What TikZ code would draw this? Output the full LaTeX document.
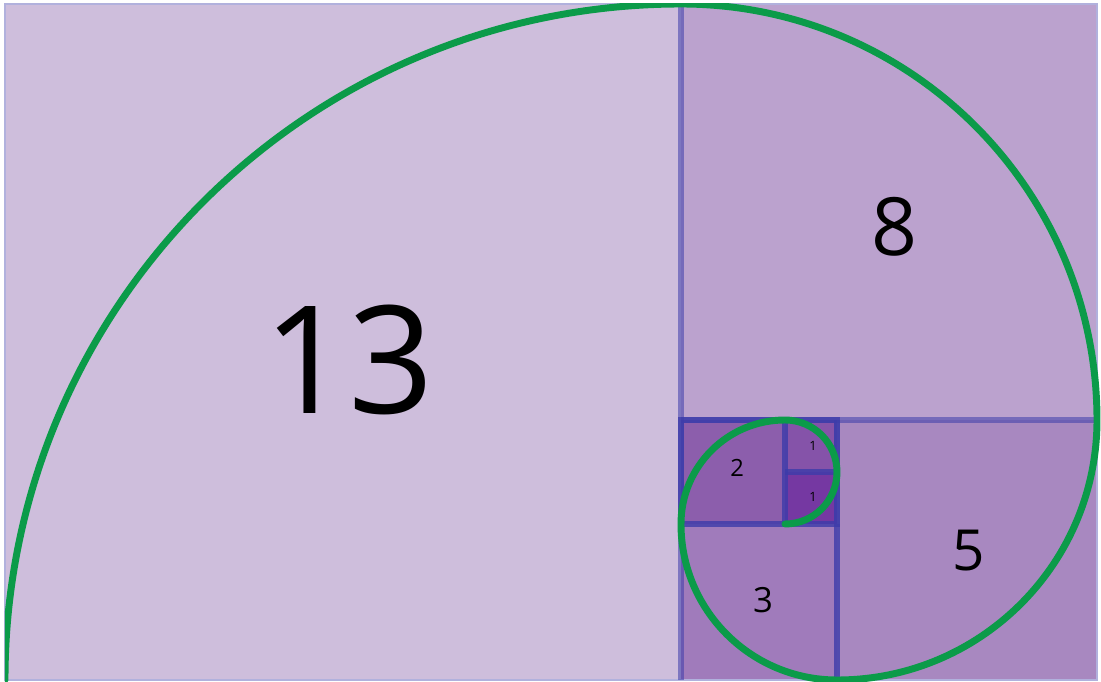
\documentclass[tikz,border=0pt]{standalone}
\usepackage{fontspec}
\setmainfont{Open Sans}
\definecolor{sqA}{HTML}{CEBEDC}
\definecolor{sqB}{HTML}{BBA2CE}
\definecolor{sqC}{HTML}{A888C0}
\definecolor{sqD}{HTML}{A07BBB}
\definecolor{sqE}{HTML}{8C5EAC}
\definecolor{sqF}{HTML}{8553A9}
\definecolor{sqG}{HTML}{7538A2}
\definecolor{seamblue}{HTML}{3C3CAA}
\definecolor{spiralgreen}{HTML}{0B9B49}
\tikzset{
  seam/.style={draw=seamblue, line width=3.3pt, opacity=.55},
  seamdark/.style={draw=seamblue, line width=3.5pt, opacity=.8},
  spiral/.style={draw=spiralgreen, line width=3.8pt, line cap=round}
}
\begin{document}
\begin{tikzpicture}[x=1cm, y=1cm]
  \useasboundingbox[fill=white] (-0.096,-0.038) rectangle (21.077,13.077);
  % squares of the tiling
  \foreach \x/\y/\s/\c in {0/0/13/sqA, 13/5/8/sqB, 16/0/5/sqC, 13/0/3/sqD,
                           13/3/2/sqE, 15/4/1/sqF, 15/3/1/sqG}
    \fill[\c] (\x,\y) rectangle ++(\s,\s);
  \draw[draw=seamblue!40, line width=1.4pt] (0,0) rectangle (21,13);
  % seams
  \draw[seam] (13,0) -- (13,13);
  \draw[seam] (13,5) -- (21,5);
  \draw[seam] (16,0) -- (16,5);
  \draw[seamdark] (13,3) rectangle (16,5);
  \draw[seamdark] (15,3) -- (15,5);
  \draw[seamdark] (15,4) -- (16,4);
  \draw[seam] (16,0) -- (16,3);
  % spiral
  \begin{scope}
    \clip (0,-1) rectangle (22,13);
    \draw[spiral] (0,0) arc[start angle=180, end angle=90, radius=13]
      arc[start angle=90, end angle=0, radius=8]
      arc[start angle=0, end angle=-90, radius=5]
      arc[start angle=-90, end angle=-180, radius=3]
      arc[start angle=180, end angle=90, radius=2]
      arc[start angle=90, end angle=-90, radius=1];
  \end{scope}
  % labels
  \foreach \x/\y/\t/\s/\k in {6.61/6.15/13/82/a, 17.10/8.72/8/44/b,
                              18.54/2.48/5/31/c, 14.58/1.54/3/19/d,
                              14.08/4.07/2/13/e, 15.54/4.50/1/7/f,
                              15.54/3.52/1/7/g}
    \node[inner sep=0pt, font=\fontsize{\s}{\s}\selectfont] (lab-\k) at (\x,\y) {\t};
\end{tikzpicture}
\end{document}
